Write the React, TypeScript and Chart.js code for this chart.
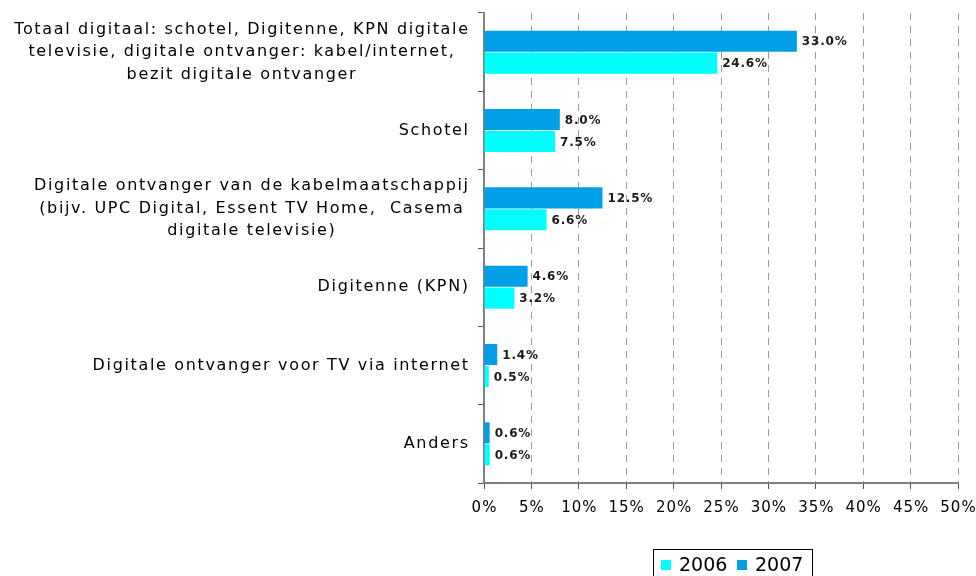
import React, { useEffect, useRef } from "react";
import { Chart, registerables } from "chart.js";

Chart.register(...registerables);

const categories: string[][] = [
  ["Totaal digitaal: schotel, Digitenne, KPN digitale", "televisie, digitale ontvanger: kabel/internet,", "bezit digitale ontvanger"],
  ["Schotel"],
  ["Digitale ontvanger van de kabelmaatschappij", "(bijv. UPC Digital, Essent TV Home,  Casema", "digitale televisie)"],
  ["Digitenne (KPN)"],
  ["Digitale ontvanger voor TV via internet"],
  ["Anders"],
];
const values2007 = [33.0, 8.0, 12.5, 4.6, 1.4, 0.6];
const values2006 = [24.6, 7.5, 6.6, 3.2, 0.5, 0.6];
const xTicks = [0, 5, 10, 15, 20, 25, 30, 35, 40, 45, 50];
const seriesNames = ["2006", "2007"];
const color2007 = "#009FE6";
const color2006 = "#00FFFF";

const FONT = "'DejaVu Sans', Verdana, sans-serif";

const labelPlugin = {
  id: "customLabels",
  afterDraw(chart: any) {
    const ctx = chart.ctx;
    const yScale = chart.scales.y;
    const xScale = chart.scales.x;
    ctx.save();
    ctx.font = `16px ${FONT}`;
    (ctx as any).letterSpacing = "1.65px";
    ctx.fillStyle = "#000";
    ctx.textBaseline = "middle";
    ctx.textAlign = "left";
    const lineH = 22.5;
    const rightEdge = 468;
    categories.forEach((lines, i) => {
      const cy = yScale.getPixelForValue(i);
      const widths = lines.map((l) => ctx.measureText(l).width - 1.65);
      const w = Math.max(...widths);
      const cx = rightEdge - w / 2;
      lines.forEach((l, j) => {
        const y = cy + (j - (lines.length - 1) / 2) * lineH;
        ctx.fillText(l, cx - widths[j] / 2, y);
      });
    });
    // x tick labels
    ctx.font = `15px ${FONT}`;
    (ctx as any).letterSpacing = "1px";
    xTicks.forEach((v) => {
      const t = v + "%";
      const w = ctx.measureText(t).width - 1;
      ctx.fillText(t, xScale.getPixelForValue(v) - w / 2, 508);
    });
    // data labels
    ctx.font = `bold 12px ${FONT}`;
    (ctx as any).letterSpacing = "0.8px";
    ctx.fillStyle = "#1a1a1a";
    chart.data.datasets.forEach((ds: any, di: number) => {
      const meta = chart.getDatasetMeta(di);
      meta.data.forEach((el: any, i: number) => {
        ctx.fillText(ds.data[i].toFixed(1) + "%", el.x + 5, el.y + 1);
      });
    });
    // legend
    (ctx as any).letterSpacing = "0px";
    const lx = 653, ly = 549, lw = 159, lh = 40;
    ctx.strokeStyle = "#000";
    ctx.lineWidth = 1;
    ctx.strokeRect(lx + 0.5, ly + 0.5, lw, lh);
    ctx.font = `19px ${FONT}`;
    const items = [
      { name: seriesNames[0], color: color2006, sq: 661, tx: 679 },
      { name: seriesNames[1], color: color2007, sq: 737, tx: 755 },
    ];
    items.forEach((it) => {
      ctx.fillStyle = it.color;
      ctx.fillRect(it.sq, 560, 10, 10);
      ctx.fillStyle = "#000";
      ctx.fillText(it.name, it.tx, 566);
    });
    ctx.restore();
  },
};

export default function App() {
  const ref = useRef<HTMLCanvasElement>(null);
  useEffect(() => {
    document.body.style.margin = "0";
    const chart = new Chart(ref.current!, {
      type: "bar",
      data: {
        labels: categories.map((c) => c.join(" ")),
        datasets: [
          { label: seriesNames[1], data: values2007, backgroundColor: color2007, categoryPercentage: 0.56, barPercentage: 0.96 },
          { label: seriesNames[0], data: values2006, backgroundColor: color2006, categoryPercentage: 0.56, barPercentage: 0.96 },
        ],
      },
      options: {
        indexAxis: "y",
        animation: false,
        responsive: false,
        maintainAspectRatio: false,
        layout: { padding: { left: 0, right: 18, top: 13, bottom: 0 } },
        plugins: { legend: { display: false }, tooltip: { enabled: false } },
        scales: {
          x: {
            min: 0,
            max: 50,
            afterBuildTicks: (scale: any) => {
              scale.ticks = xTicks.map((v) => ({ value: v }));
            },
            afterFit: (scale: any) => {
              scale.height = 93;
            },
            ticks: {
              display: false,
            },
            grid: {
              color: (c: any) => (c.index === 0 ? "rgba(0,0,0,0)" : "#9a9a9a"),
              lineWidth: 1,
              drawTicks: true,
              tickLength: 6,
              tickColor: "#555",
              tickBorderDash: [],
            },
            border: { display: true, color: "#7f7f7f", width: 2, dash: [7, 6] },
          },
          y: {
            afterFit: (scale: any) => {
              scale.width = 484;
            },
            ticks: { display: false },
            grid: {
              drawOnChartArea: false,
              drawTicks: true,
              tickLength: 6,
              tickColor: "#555",
              offset: true,
            },
            border: { display: true, color: "#7f7f7f", width: 2 },
          },
        },
      },
      plugins: [labelPlugin],
    });
    return () => chart.destroy();
  }, []);
  return (
    <div style={{ position: "absolute", left: 0, top: 0, width: 976, height: 576, background: "#fff" }}>
      <canvas ref={ref} width={976} height={576} style={{ width: 976, height: 576 }} />
    </div>
  );
}
